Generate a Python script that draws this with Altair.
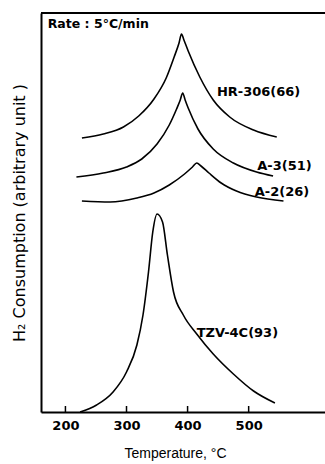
import altair as alt
import pandas as pd

# Series (temperature in °C, H2 consumption in arbitrary units)
hr_t = [227, 262, 295, 320, 345, 365, 378, 386, 390, 394, 401, 420, 442, 469, 508, 546]
hr_v = [274, 278, 285, 296, 313, 334, 355, 369, 378, 372, 361, 335, 312, 295, 282, 275]

a3_t = [218, 262, 300, 325, 350, 370, 382, 388, 392, 396, 401, 417, 442, 475, 513, 540]
a3_v = [235, 239, 245, 253, 268, 287, 303, 312, 319, 312, 304, 283, 263, 249, 240, 236]

a2_t = [227, 273, 317, 345, 370, 395, 408, 415, 422, 435, 455, 480, 513, 557]
a2_v = [211, 210, 214, 219, 227, 238, 245, 249, 246, 239, 229, 221, 215, 211]

tzv_t = [224, 251, 278, 300, 317, 327, 336, 343, 350, 359, 367, 377, 393, 415, 442, 475, 508, 543]
tzv_v = [0, 7, 20, 40, 67, 97, 140, 180, 198, 190, 157, 120, 97, 78, 58, 38, 21, 9]

series_names = ["HR-306(66)", "A-3(51)", "A-2(26)", "TZV-4C(93)"]
label_t = [448, 514, 510, 415]
label_v = [320, 246, 220, 79]

note_text = ["Rate : 5°C/min"]
note_t = [171]
note_v = [388]

tick_values = [200, 300, 400, 500]
x_domain = [160, 625]
y_domain = [0, 399]

rows = []
for name, ts, vs in zip(series_names, [hr_t, a3_t, a2_t, tzv_t], [hr_v, a3_v, a2_v, tzv_v]):
    for i, (t, v) in enumerate(zip(ts, vs)):
        rows.append({"series": name, "T": t, "v": v, "i": i})
df = pd.DataFrame(rows)

lab_df = pd.DataFrame({"label": series_names, "T": label_t, "v": label_v})
note_df = pd.DataFrame({"label": note_text, "T": note_t, "v": note_v})
tick_df = pd.DataFrame({"T": tick_values, "v0": [0] * 4, "v1": [6] * 4})

FONT = "Liberation Sans"
LFONT = "DejaVu Sans"

xscale = alt.Scale(domain=x_domain, nice=False, zero=False)
yscale = alt.Scale(domain=y_domain, nice=False, zero=False)

lines = alt.Chart(df).mark_line(
    color="black", strokeWidth=1.6, interpolate="monotone"
).encode(
    x=alt.X("T:Q", scale=xscale, axis=alt.Axis(
        values=tick_values, title="Temperature, °C", ticks=False, grid=False,
        domainColor="black", domainWidth=2, labelFont=LFONT, labelFontSize=13,
        labelFontWeight="bold", labelColor="black", labelPadding=7,
        titleFont=FONT, titleFontSize=14, titleFontWeight="normal",
        titleColor="black", titlePadding=14, titleX=134)),
    y=alt.Y("v:Q", scale=yscale, axis=alt.Axis(
        title="H₂ Consumption (arbitrary unit )", labels=False, ticks=False,
        grid=False, domainColor="black", domainWidth=2, titleFont=LFONT,
        titleFontSize=16, titleFontWeight="normal", titleColor="black",
        titlePadding=14)),
    detail="series:N",
    order="i:Q",
)

ticks = alt.Chart(tick_df).mark_rule(color="black", strokeWidth=1.5).encode(
    x="T:Q", y="v0:Q", y2="v1:Q"
)

top = alt.Chart(pd.DataFrame({"v": [y_domain[1]]})).mark_rule(
    color="black", strokeWidth=2
).encode(y=alt.Y("v:Q", scale=yscale))

labels = alt.Chart(lab_df).mark_text(
    align="left", baseline="middle", font=LFONT, fontSize=13,
    fontWeight="bold", color="black"
).encode(x="T:Q", y="v:Q", text="label:N")

note = alt.Chart(note_df).mark_text(
    align="left", baseline="middle", font=LFONT, fontSize=12.5,
    fontWeight="bold", color="black"
).encode(x="T:Q", y="v:Q", text="label:N")

chart = alt.layer(lines, ticks, top, labels, note).properties(
    width=284, height=399,
    autosize=alt.AutoSizeParams(type="none"),
    padding={"left": 41, "top": 13, "right": 0, "bottom": 52},
).configure_view(stroke=None).configure(background="white")

chart.save("out.html", embed_options={"renderer": "svg", "actions": False})
